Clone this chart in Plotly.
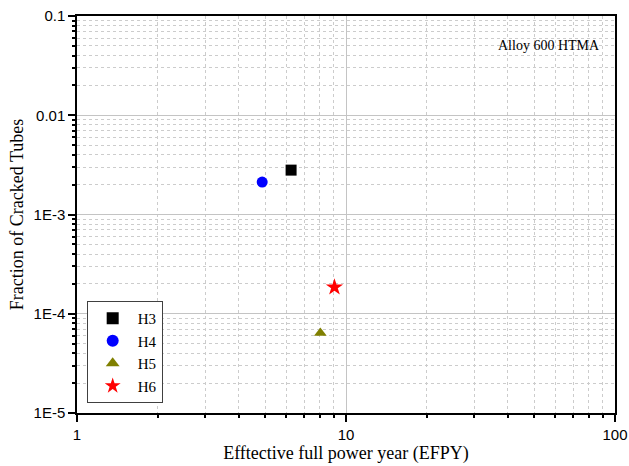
import plotly.graph_objects as go

series_names = ["H3", "H4", "H5", "H6"]
x_values = [6.25, 4.88, 8.03, 9.06]
y_values = [2.8e-3, 2.12e-3, 6.4e-5, 1.85e-4]
symbols = ["square", "circle", "triangle-up", "star"]
colors = ["#000000", "#0000FF", "#808000", "#FF0000"]

y_tickvals = [1e-5, 1e-4, 1e-3, 1e-2, 1e-1]
y_ticktext = ["1E-5", "1E-4", "1E-3", "0.01", "0.1"]
x_tickvals = [1, 10, 100]
x_ticktext = ["1", "10", "100"]
minor_mult = [2, 3, 4, 5, 6, 7, 8, 9]

x_minor = [m * d for d in x_tickvals[:-1] for m in minor_mult]
y_minor = [m * d for d in y_tickvals[:-1] for m in minor_mult]

fig = go.Figure()
for name, xv, yv, sym, col in zip(series_names, x_values, y_values, symbols, colors):
    fig.add_trace(go.Scatter(
        x=[xv], y=[yv], mode="markers", name=name,
        marker=dict(symbol=sym, color=col, size=11 if sym != "star" else 13, line=dict(width=0)),
    ))

serif = "Liberation Serif, Times New Roman, serif"
sans = "Liberation Sans, Arial, sans-serif"

common_axis = dict(
    type="log", showline=True, linecolor="black", linewidth=1.5, mirror=True,
    ticks="outside", ticklen=7, tickwidth=1.5, tickcolor="black",
    showgrid=True, gridcolor="#c4c4c4", gridwidth=1,
    zeroline=False, automargin=False, ticklabeloverflow="allow",
    tickfont=dict(family=sans, size=15, color="black"),
)

fig.update_xaxes(
    **common_axis, range=[0, 2], tickmode="array", tickvals=x_tickvals, ticktext=x_ticktext,
    minor=dict(tickmode="array", tickvals=x_minor, ticks="outside", ticklen=3, tickwidth=1.5,
               tickcolor="black", showgrid=True, gridcolor="#cccccc", griddash="dot", gridwidth=1),
    title=dict(text="Efftective full power year (EFPY)", font=dict(family=serif, size=18, color="black"), standoff=2),
)
fig.update_yaxes(
    **common_axis, range=[-5, -1], tickmode="array", tickvals=y_tickvals, ticktext=y_ticktext,
    minor=dict(tickmode="array", tickvals=y_minor, ticks="outside", ticklen=3, tickwidth=1.5,
               tickcolor="black", showgrid=True, gridcolor="#cccccc", griddash="dot", gridwidth=1),
    title=dict(text="Fraction of Cracked Tubes", font=dict(family=serif, size=18, color="black"), standoff=5),
)

fig.add_annotation(
    x=0.975, y=0.925, xref="paper", yref="paper", xanchor="right", yanchor="middle",
    text="Alloy 600 HTMA", showarrow=False, font=dict(family=serif, size=14, color="black"),
)

fig.update_layout(
    width=629, height=466,
    margin=dict(l=77, r=14, t=16, b=53),
    paper_bgcolor="white", plot_bgcolor="white",
    showlegend=True,
    legend=dict(
        x=0.018, y=0.025, xanchor="left", yanchor="bottom",
        bgcolor="white", bordercolor="#404040", borderwidth=1,
        font=dict(family=serif, size=15, color="black"),
        itemsizing="constant", tracegroupgap=6, itemwidth=40,
    ),
)

fig.write_html(
    "out.html",
    config={"displayModeBar": False},
    post_script="document.body.style.margin='0';document.body.style.overflow='hidden';",
)
